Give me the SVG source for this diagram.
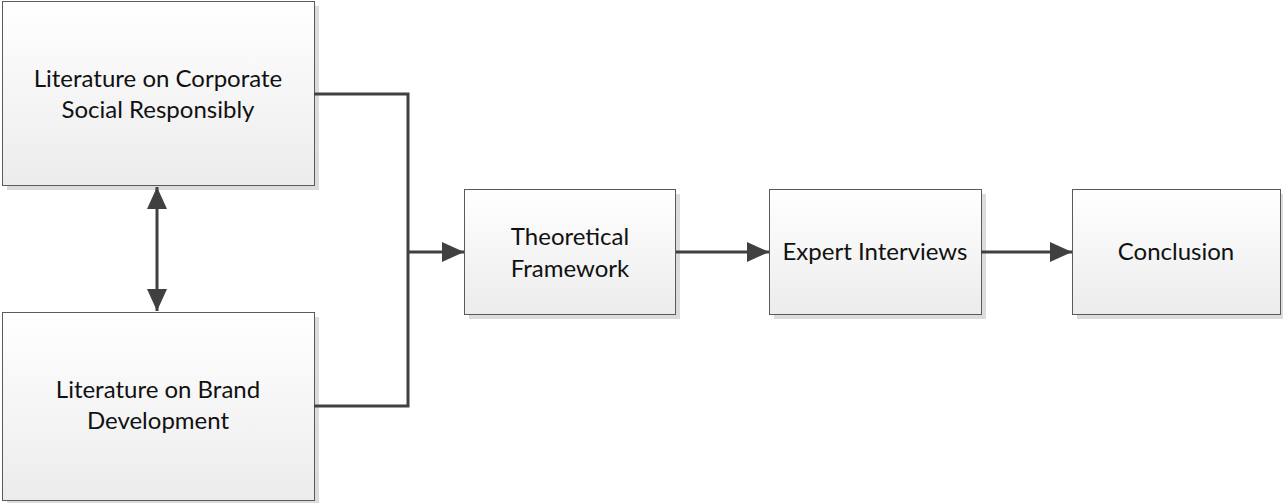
<svg xmlns="http://www.w3.org/2000/svg" width="1283" height="503" viewBox="0 0 1283 503">
<style>
.box{fill:url(#g);stroke:#5a5a5a;stroke-width:1}
.sh{fill:#dcdcdc}
.t{font-family:Lato,"Open Sans","Liberation Sans",sans-serif;font-size:24px;fill:#111;text-anchor:middle}
.c{fill:none;stroke:#404040;stroke-width:3}
</style>
<defs>
<linearGradient id="g" x1="0" y1="0" x2="0" y2="1"><stop offset="0" stop-color="#ffffff"/><stop offset="1" stop-color="#ececec"/></linearGradient>
<marker id="a" viewBox="0 0 22 20" refX="22" refY="10" markerWidth="22" markerHeight="20" markerUnits="userSpaceOnUse" orient="auto-start-reverse"><path d="M0,0 L22,10 L0,20 Z" fill="#404040"/></marker>
</defs>
<g id="n1"><rect class="sh" x="7" y="6" width="312" height="184"/><rect class="box" x="2.5" y="1.5" width="312" height="184"/><text class="t" x="158" y="87">Literature on Corporate</text><text class="t" x="158" y="118">Social Responsibly</text></g>
<g id="n2"><rect class="sh" x="7" y="317" width="312" height="188"/><rect class="box" x="2.5" y="312.5" width="312" height="188"/><text class="t" x="158" y="398">Literature on Brand</text><text class="t" x="158" y="429">Development</text></g>
<g id="n3"><rect class="sh" x="469" y="194" width="211" height="125"/><rect class="box" x="464.5" y="189.5" width="211" height="125"/><text class="t" x="570" y="245">Theoretical</text><text class="t" x="570" y="277">Framework</text></g>
<g id="n4"><rect class="sh" x="774" y="194" width="212" height="125"/><rect class="box" x="769.5" y="189.5" width="212" height="125"/><text class="t" x="875" y="260">Expert Interviews</text></g>
<g id="n5"><rect class="sh" x="1077" y="194" width="210" height="125"/><rect class="box" x="1072.5" y="189.5" width="208" height="125"/><text class="t" x="1176" y="260">Conclusion</text></g>
<g id="connectors">
<path class="c" d="M157,187 V311" marker-start="url(#a)" marker-end="url(#a)"/>
<path class="c" d="M314,94 H408 V406 H314"/>
<path class="c" d="M408,252 H464" marker-end="url(#a)"/>
<path class="c" d="M676,252 H769" marker-end="url(#a)"/>
<path class="c" d="M981,252 H1072" marker-end="url(#a)"/>
</g>
</svg>
